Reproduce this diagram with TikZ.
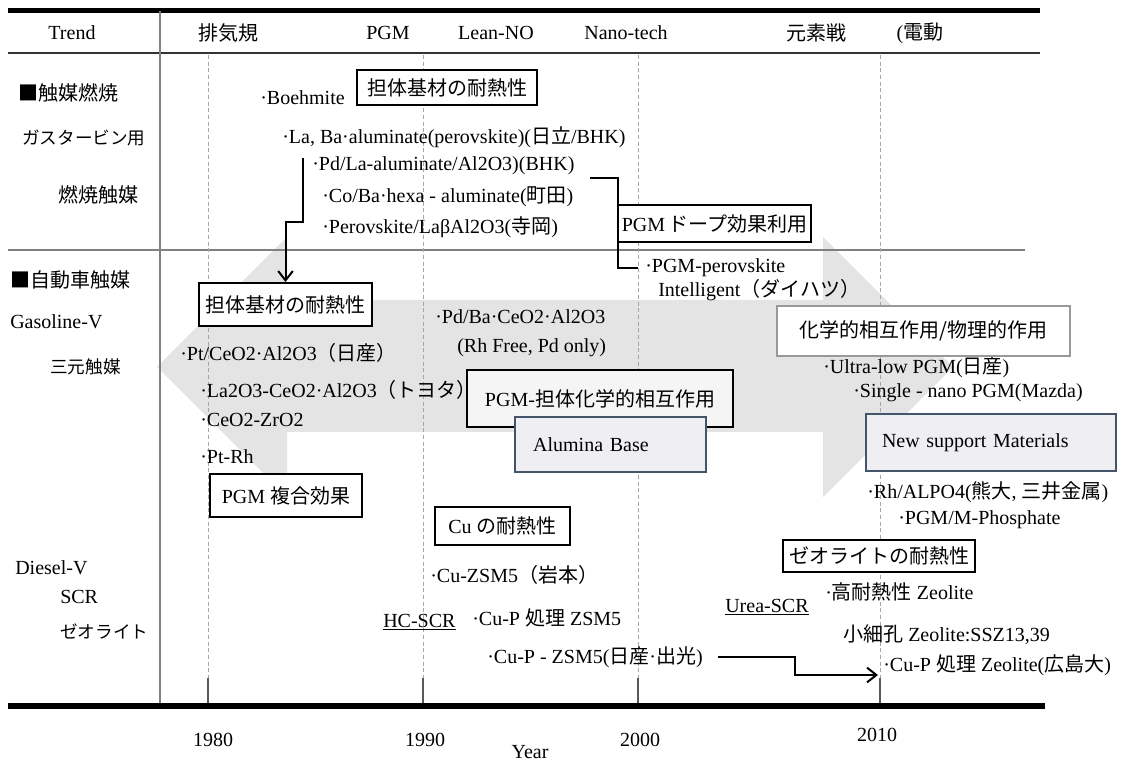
\documentclass[tikz,border=0pt]{standalone}
\usepackage{fontspec}
\setmainfont{Liberation Serif}
\newfontfamily\jpfont{Noto Sans CJK JP}
\newcommand{\jp}[1]{{\jpfont #1}}
\usetikzlibrary{arrows.meta}
\definecolor{slate}{HTML}{44546A}
\definecolor{softfill}{HTML}{EEEEF3}
\definecolor{bandgray}{HTML}{E4E4E4}

\begin{document}
\begin{tikzpicture}[x=0.75pt, y=-0.75pt,
    font=\fontsize{15}{18}\selectfont,
    >={Straight Barb[length=7pt,width=11pt]},
    txt/.style={anchor=west, inner sep=0pt},
    smalltxt/.style={txt, font=\fontsize{13.2}{16}\selectfont},
    hdr/.style={inner sep=0pt},
    tag/.style={draw, line width=1.5pt, fill=white, inner sep=0pt},
    softbox/.style={draw=slate, line width=1.1pt, fill=softfill, inner ysep=0pt,
                    align=left},
    conn/.style={line width=1.5pt},
    yearline/.style={gray!70, line width=0.6pt, dash pattern=on 3pt off 2pt},
    yeartick/.style={black!65, line width=2.2pt}
  ]
  \useasboundingbox (0,0) rectangle (1122,762);

  % --- trend band (double arrow) ------------------------------------------
  \fill[bandgray] (157,367) -- (287,237) -- (287,300) -- (823,300) -- (823,237)
    -- (953,367) -- (823,497) -- (823,432) -- (287,432) -- (287,497) -- cycle;

  % --- table rules and year grid ------------------------------------------
  \draw[line width=3.75pt] (8,11) -- (1040,11);
  \draw[black!80, line width=2.2pt] (8,53) -- (1040,53);
  \draw[gray, line width=1.2pt] (8,250) -- (1025,250);
  \draw[gray, line width=0.8pt] (160,11) -- (160,706);
  \foreach \x in {208,423,638,880} {
    \draw[yearline] (\x,55) -- (\x,680);
    \draw[yeartick] (\x,678) -- (\x,706);
  }
  \draw[line width=5pt] (8,706) -- (1045,706);

  % --- header row ----------------------------------------------------------
  \node[hdr] (htrend) at (72,33)  {Trend};
  \node[hdr] (hreg)   at (228,33) {\jp{排気規}};
  \node[hdr] (hpgm)   at (388,33) {PGM};
  \node[hdr] (hlean)  at (496,33) {Lean-NO};
  \node[hdr] (hnano)  at (626,33) {Nano-tech};
  \node[hdr] (helem)  at (816,33) {\jp{元素戦}};
  \node[hdr] (helec)  at (920,33) {(\jp{電動}};

  % --- row labels ----------------------------------------------------------
  \node[txt] (lcomb)  at (18,93)  {\jp{■触媒燃焼}};
  \node[smalltxt] (lgas) at (22,138) {\jp{ガスタービン用}};
  \node[txt] (lccat)  at (58,195) {\jp{燃焼触媒}};
  \node[txt] (lauto)  at (10,280) {\jp{■自動車触媒}};
  \node[txt] (lgaso)  at (10,322) {Gasoline-V};
  \node[smalltxt] (ltwc) at (50,367) {\jp{三元触媒}};
  \node[txt] (ldies)  at (15,568) {Diesel-V};
  \node[txt] (lscr)   at (60,597) {SCR};
  \node[smalltxt] (lzeo) at (60,632) {\jp{ゼオライト}};

  % --- combustion catalysts ------------------------------------------------
  \node[txt] (boeh)  at (260,98)  {·Boehmite};
  \node[txt] (laba)  at (282,137) {·La, Ba·aluminate(perovskite)(\jp{日立}/BHK)};
  \node[txt] (pdla)  at (312,166) {·Pd/La-aluminate/Al2O3)(BHK)};
  \node[txt] (coba)  at (322,197) {·Co/Ba·hexa - aluminate(\jp{町田})};
  \node[txt] (perov) at (322,227) {·Perovskite/LaβAl2O3(\jp{寺岡})};
  \node[txt] (pgmp)  at (645,268) {·PGM-perovskite};
  \node[txt] (intel) at (658,290) {Intelligent\jp{（ダイハツ）}};

  % --- three-way catalysts -------------------------------------------------
  \node[txt] (ptce)   at (180,353) {·Pt/CeO2·Al2O3\jp{（日産）}};
  \node[txt] (laox)   at (200,390) {·La2O3-CeO2·Al2O3\jp{（トヨタ）}};
  \node[txt] (cezr)   at (200,420) {·CeO2-ZrO2};
  \node[txt] (ptrh)   at (200,457) {·Pt-Rh};
  \node[txt] (pdba)   at (435,317) {·Pd/Ba·CeO2·Al2O3};
  \node[txt] (rhfree) at (457,348) {(Rh Free, Pd only)};
  \node[txt] (ultra)  at (823,367) {·Ultra-low PGM(\jp{日産})};
  \node[txt] (single) at (853,393) {·Single - nano PGM(Mazda)};
  \node[txt] (rhal)   at (867,492) {·Rh/ALPO4(\jp{熊大}, \jp{三井金属})};
  \node[txt] (phos)   at (898,520) {·PGM/M-Phosphate};

  % --- SCR / zeolite -------------------------------------------------------
  \node[txt] (cuzsm) at (430,575) {·Cu-ZSM5\jp{（岩本）}};
  \node[txt] (hcscr) at (383,622) {\underline{HC-SCR}};
  \node[txt] (cupz)  at (472,618) {·Cu-P \jp{処理} ZSM5};
  \node[txt] (cupn)  at (487,657) {·Cu-P - ZSM5(\jp{日産}·\jp{出光})};
  \node[txt] (urea)  at (725,607) {\underline{Urea-SCR}};
  \node[txt] (hiz)   at (825,592) {·\jp{高耐熱性} Zeolite};
  \node[txt] (smz)   at (843,635) {\jp{小細孔} Zeolite:SSZ13,39};
  \node[txt] (cuzeo) at (883,665) {·Cu-P \jp{処理} Zeolite(\jp{広島大})};

  % --- connectors ----------------------------------------------------------
  \coordinate (bk1) at (303,158);
  \coordinate (bk2) at (303,222);
  \coordinate (dp1) at (590,178);
  \coordinate (cp2) at (878,675);
  \node[tag, minimum width=129.75pt, minimum height=32.25pt] (sup2) at (285.5,304.5)
    {\jp{担体基材の耐熱性}};
  \draw[conn,->] (bk1) -- (bk2) -| (sup2.north);
  \draw[line width=1pt] (dp1) -- ++(28,0) |- ([xshift=-5pt]pgmp.west);
  \draw[conn,->] ([xshift=11pt]cupn.east) -- ++(77,0) |- (cp2);

  % --- boxes ---------------------------------------------------------------
  \node[tag, minimum width=135pt, minimum height=26.25pt] (sup1) at (447,87.5)
    {\jp{担体基材の耐熱性}};
  \node[tag, minimum width=144.75pt, minimum height=27.75pt] (dope) at (714.5,223.5)
    {PGM\,\jp{ドープ効果利用}};
  \node[tag, minimum width=114pt, minimum height=32.25pt] (mix) at (286,495.5)
    {PGM \jp{複合効果}};
  \node[tag, minimum width=101.25pt, minimum height=28.5pt] (cuht) at (502.5,526)
    {Cu \jp{の耐熱性}};
  \node[tag, minimum width=144pt, minimum height=24pt] (zeoht) at (879,556)
    {\jp{ゼオライトの耐熱性}};
  \node[tag, fill=black!4, minimum width=199.5pt, minimum height=42.75pt] (inter)
    at (600,398.5) {PGM-\jp{担体化学的相互作用}};
  \node[softbox, inner xsep=13.5pt, text width=116pt, minimum height=41.25pt] (alum)
    at (610.5,444.5) {Alumina Base};
  \node[tag, draw=gray!80, line width=1pt, minimum width=219.75pt, minimum height=37.5pt]
    (chem) at (923.5,331) {\jp{化学的相互作用/物理的作用}};
  \node[softbox, inner xsep=12pt, text width=163.5pt, minimum height=42.75pt] (newsup)
    at (991,442.5) {New support Materials};

  % --- time axis labels ----------------------------------------------------
  \node (y1980) at (213,740) {1980};
  \node (y1990) at (425,740) {1990};
  \node (y2000) at (640,740) {2000};
  \node (y2010) at (877,735) {2010};
  \node (yr)    at (530,752) {Year};
\end{tikzpicture}
\end{document}
